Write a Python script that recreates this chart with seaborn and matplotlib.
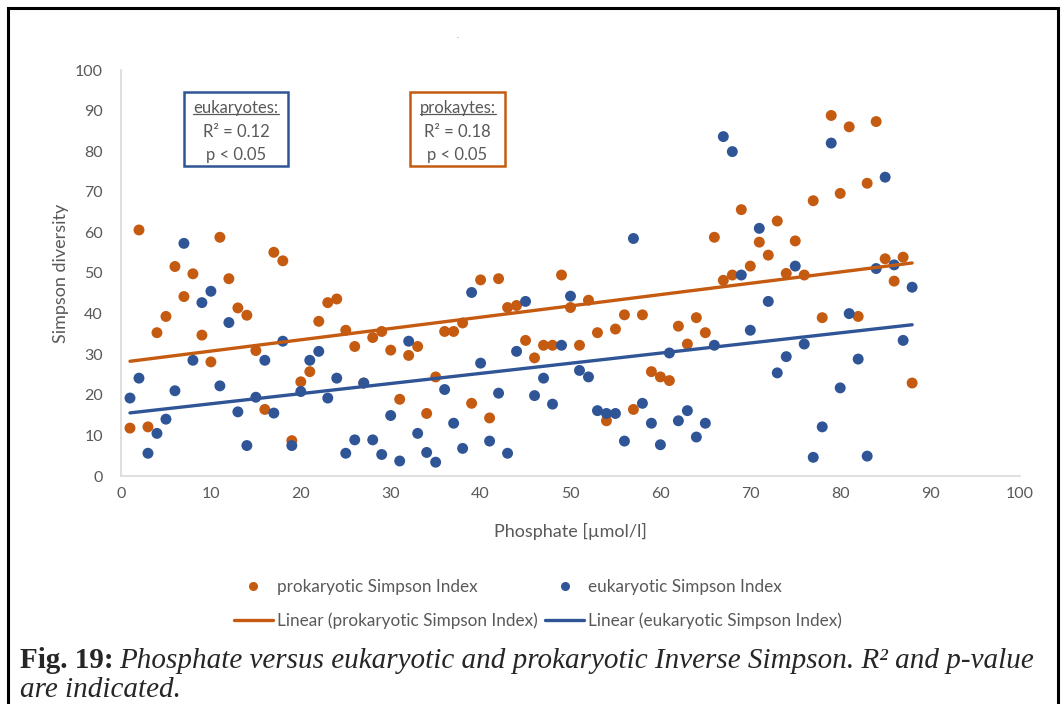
import numpy as np
import pandas as pd
import matplotlib
matplotlib.use("Agg")
import matplotlib.pyplot as plt
import seaborn as sns
from matplotlib.lines import Line2D
from matplotlib.patches import Rectangle

# ---------------- data ----------------
phosphate = [1, 2, 3, 4, 5, 6, 7, 8, 9, 10, 11, 12, 13, 14, 15, 16, 17, 18, 19, 20,
             21, 22, 23, 24, 25, 26, 27, 28, 29, 30, 31, 32, 33, 34, 35, 36, 37, 38, 39, 40,
             41, 42, 43, 44, 45, 46, 47, 48, 49, 50, 51, 52, 53, 54, 55, 56, 57, 58, 59, 60,
             61, 62, 63, 64, 65, 66, 67, 68, 69, 70, 71, 72, 73, 74, 75, 76, 77, 78, 79, 80,
             81, 82, 83, 84, 85, 86, 87, 88]

prokaryotic = [11.8, 60.6, 12.1, 35.3, 39.3, 51.6, 44.2, 49.8, 34.7, 28.1,
               58.8, 48.6, 41.4, 39.6, 30.9, 16.4, 55.1, 53.0, 8.7, 23.2,
               25.7, 38.1, 42.7, 43.6, 35.9, 31.9, 22.9, 34.1, 35.6, 31.0,
               18.9, 29.7, 31.9, 15.4, 24.4, 35.6, 35.6, 37.7, 17.9, 48.3,
               14.3, 48.6, 41.5, 42.0, 33.4, 29.1, 32.2, 32.2, 49.5, 41.5,
               32.2, 43.3, 35.3, 13.6, 36.2, 39.7, 16.4, 39.7, 25.7, 24.4,
               23.5, 36.9, 32.5, 39.0, 35.3, 58.8, 48.2, 49.5, 65.6, 51.7,
               57.6, 54.4, 62.8, 49.9, 57.9, 49.5, 67.8, 39.0, 88.8, 69.6,
               86.0, 39.3, 72.1, 87.3, 53.5, 48.0, 53.9, 22.9]

eukaryotic = [19.2, 24.1, 5.6, 10.5, 14.0, 21.0, 57.3, 28.5, 42.7, 45.5,
              22.2, 37.8, 15.8, 7.5, 19.4, 28.5, 15.5, 33.2, 7.5, 20.8,
              28.5, 30.7, 19.2, 24.1, 5.6, 8.9, 22.9, 8.9, 5.3, 14.9,
              3.7, 33.2, 10.5, 5.8, 3.4, 21.3, 13.0, 6.8, 45.2, 27.8,
              8.6, 20.4, 5.6, 30.7, 43.0, 19.8, 24.1, 17.7, 32.2, 44.3,
              26.0, 24.4, 16.1, 15.4, 15.4, 8.6, 58.5, 17.9, 13.0, 7.7,
              30.3, 13.6, 16.1, 9.6, 13.0, 32.2, 83.6, 79.9, 49.5, 35.9,
              61.0, 43.0, 25.4, 29.4, 51.7, 32.5, 4.6, 12.1, 82.0, 21.7,
              40.0, 28.8, 4.9, 51.1, 73.6, 52.0, 33.4, 46.5]

series_names = ["prokaryotic Simpson Index", "eukaryotic Simpson Index"]
trend_names = ["Linear (prokaryotic Simpson Index)", "Linear (eukaryotic Simpson Index)"]
x_ticks = [0, 10, 20, 30, 40, 50, 60, 70, 80, 90, 100]
y_ticks = [0, 10, 20, 30, 40, 50, 60, 70, 80, 90, 100]
x_label = "Phosphate [µmol/l]"
y_label = "Simpson diversity"
box_euk = ["eukaryotes:", "R² = 0.12", "p < 0.05"]
box_pro = ["prokaytes:", "R² = 0.18", "p < 0.05"]

ORANGE = "#C55A11"
BLUE = "#2F5597"
GRAY = "#595959"
AXIS_GRAY = "#D9D9D9"

sns.set_theme(style="white")
plt.rcParams['font.family'] = ['Lato', 'DejaVu Sans']

W, H = 1064, 704
fig = plt.figure(figsize=(W / 100, H / 100), dpi=100)
fig.patch.set_facecolor("white")

def fx(px):
    return px / W

def fy(py):
    return 1 - py / H

ax = fig.add_axes([fx(121), fy(476), fx(1020) - fx(121), fy(70) - fy(476)])

df = pd.DataFrame({
    "phosphate": phosphate * 2,
    "simpson": prokaryotic + eukaryotic,
    "series": [series_names[0]] * len(prokaryotic) + [series_names[1]] * len(eukaryotic),
})
palette = {series_names[0]: ORANGE, series_names[1]: BLUE}

sns.scatterplot(data=df, x="phosphate", y="simpson", hue="series", palette=palette,
                s=62, edgecolor="none", linewidth=0, legend=False, ax=ax, zorder=3)
for name in series_names:
    sns.regplot(data=df[df["series"] == name], x="phosphate", y="simpson",
                scatter=False, ci=None, truncate=True, color=palette[name],
                line_kws=dict(lw=2.4, zorder=4), ax=ax)

ax.set_xlim(0, 100)
ax.set_ylim(0, 100)
ax.set_xticks(x_ticks)
ax.set_yticks(y_ticks)
ax.tick_params(axis="both", length=0, labelsize=11.5, labelcolor=GRAY)
ax.tick_params(axis="y", pad=13)
ax.tick_params(axis="x", pad=8)
for s in ["top", "right"]:
    ax.spines[s].set_visible(False)
for s in ["left", "bottom"]:
    ax.spines[s].set_color(AXIS_GRAY)
    ax.spines[s].set_linewidth(1.2)
ax.grid(False)
ax.set_xlabel(x_label, fontsize=13, color=GRAY, labelpad=16)
ax.set_ylabel(y_label, fontsize=13, color=GRAY, labelpad=4.5)

# annotation boxes
def draw_box(x0, x1, y0, y1, color, lines):
    fig.add_artist(Rectangle((fx(x0), fy(y1)), fx(x1) - fx(x0), fy(y0) - fy(y1),
                             transform=fig.transFigure, fill=True, facecolor="white",
                             edgecolor=color, lw=1.8, zorder=5))
    cx = fx((x0 + x1) / 2)
    ys = [108, 132, 155]
    texts = []
    for txt, yy in zip(lines, ys):
        t = fig.text(cx, fy(yy), txt, ha="center", va="center", fontsize=12,
                     color=GRAY, zorder=6)
        texts.append(t)
    return texts[0]

t_euk = draw_box(184, 288, 92, 166, BLUE, box_euk)
t_pro = draw_box(410, 505, 92, 166, ORANGE, box_pro)

# tiny title remnant
fig.text(fx(458), fy(38), "-", fontsize=4, color=GRAY, ha="center", va="center")

# legend
handles = [
    Line2D([0], [0], marker="o", ls="", color=ORANGE, markersize=5.5),
    Line2D([0], [0], color=ORANGE, lw=2.4),
    Line2D([0], [0], marker="o", ls="", color=BLUE, markersize=5.5),
    Line2D([0], [0], color=BLUE, lw=2.4),
]
labels = [series_names[0], trend_names[0], series_names[1], trend_names[1]]
leg = fig.legend(handles, labels, ncol=2, loc="center", bbox_to_anchor=(fx(538), fy(604)),
                 frameon=False, fontsize=12.3, handlelength=2.3, handletextpad=0.25,
                 columnspacing=0.4, labelspacing=1.05)
for t in leg.get_texts():
    t.set_color(GRAY)

# caption
serif = ["Liberation Serif", "DejaVu Serif"]
CAP = 21
c1 = fig.text(fx(20), fy(668), "Fig. 19:", fontsize=CAP, fontweight="bold",
              family=serif, ha="left", va="baseline")
fig.canvas.draw()
r = fig.canvas.get_renderer()
bb = c1.get_window_extent(r)
fig.text(fx(bb.x1 + 6), fy(668),
         "Phosphate versus eukaryotic and prokaryotic Inverse Simpson. R² and p-value",
         fontsize=CAP, fontstyle="italic", family=serif, ha="left", va="baseline")
fig.text(fx(20), fy(697), "are indicated.", fontsize=CAP, fontstyle="italic",
         family=serif, ha="left", va="baseline")

# underline box titles
for t in (t_euk, t_pro):
    b = t.get_window_extent(r)
    yline = b.y0 + 2.5
    fig.add_artist(Line2D([b.x0 / W, b.x1 / W], [yline / H, yline / H],
                          transform=fig.transFigure, color=GRAY, lw=0.9, zorder=7))

# outer frame
fig.add_artist(Rectangle((fx(8), -0.02), fx(1058) - fx(8), fy(8) + 0.02,
                         transform=fig.transFigure, fill=False, edgecolor="black",
                         lw=2.2, clip_on=False, zorder=10))

fig.savefig("out.png", dpi=100, facecolor="white")
